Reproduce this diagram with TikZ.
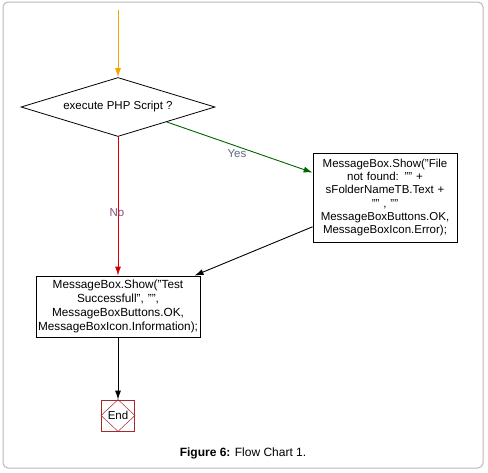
\documentclass[tikz,border=0pt]{standalone}
\usepackage{fontspec}
\setmainfont{Liberation Sans}
\usetikzlibrary{shapes.geometric,arrows.meta}
\definecolor{flowOrange}{HTML}{F5A300}
\definecolor{flowGreen}{HTML}{006400}
\definecolor{flowRed}{HTML}{D40000}
\definecolor{endRed}{HTML}{A52A2A}
\definecolor{yesGray}{HTML}{5B6B7B}
\definecolor{noPurple}{HTML}{8A4A7A}
\begin{document}
\begin{tikzpicture}[x=1pt,y=-1pt,
  every node/.style={font=\fontsize{11.5}{13.5}\selectfont},
  box/.style={draw=black,line width=0.8pt,align=center,inner sep=2pt},
  link/.style={line width=0.9pt,-{Latex[length=9pt,width=6pt]}}]
\useasboundingbox (0,0) rectangle (488,472);
\draw[gray!55,line width=1pt,rounded corners=5pt] (3,2) rectangle (483,468);
\coordinate (start) at (118,10);
\node[diamond,draw,aspect=3.29,minimum width=194pt,minimum height=59pt,inner sep=0pt,line width=0.8pt] (ask) at (118,107) {execute PHP Script ?};
\node[box,minimum width=144pt,minimum height=89pt,text width=140pt,font=\fontsize{11.5}{13.3}\selectfont] (msgR) at (385,197.5)
  {MessageBox.Show("File\\ not found: "" +\\ sFolderNameTB.Text +\\ "" , ""\\ MessageBoxButtons.OK,\\ MessageBoxIcon.Error);};
\node[box,minimum width=164pt,minimum height=61pt,text width=160pt,font=\fontsize{11.8}{14}\selectfont] (msgL) at (118,306.5)
  {MessageBox.Show("Test\\ Successfull", "",\\ MessageBoxButtons.OK,\\ MessageBoxIcon.Information);};
\node[draw=endRed,line width=0.8pt,minimum width=33pt,minimum height=31pt,inner sep=0pt] (stop) at (118,415.5) {End};
\draw[endRed,line width=0.5pt] (stop.north) -- (stop.east) -- (stop.south) -- (stop.west) -- cycle;
\draw[link,flowOrange] (start) -- (ask.north);
\draw[link,flowGreen] (ask.south east) -- (msgR.161);
\draw[link,flowRed] (ask.south) -- (msgL.north);
\draw[link] (msgR.202) -- (msgL.22);
\draw[link] (msgL.south) -- (stop.north);
\node[text=yesGray] (yes) at (237,154) {Yes};
\node[text=noPurple] (no) at (117,213) {No};
\node[font=\fontsize{12}{14}\selectfont] (caption) at (243,453) {\textbf{Figure 6:} Flow Chart 1.};
\end{tikzpicture}
\end{document}
